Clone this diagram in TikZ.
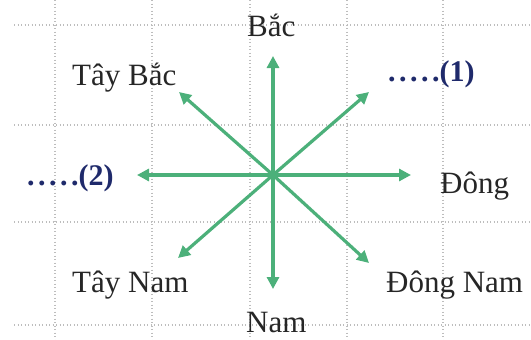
\documentclass[tikz,border=0pt]{standalone}
\usepackage{fontspec}
\setmainfont{Liberation Serif}
\usetikzlibrary{arrows.meta}
\definecolor{arrowgreen}{HTML}{4CB07A}
\definecolor{navy}{HTML}{1F2A6B}
\definecolor{gridgray}{HTML}{BDBDBD}
\begin{document}
\begin{tikzpicture}[x=1pt,y=-1pt,
  gridline/.style={gridgray,line width=1.1pt,dash pattern=on 1pt off 2.5pt},
  dirarrow/.style={arrowgreen,line width=3.2pt,-{Triangle[length=12pt,width=12pt]}},
  lbl/.style={anchor=base west,inner sep=0pt,font=\fontsize{31}{33}\selectfont,text=black!85},
  blank/.style={anchor=base west,inner sep=0pt,font=\fontsize{30}{32}\selectfont\bfseries,text=navy}]
\useasboundingbox (0,0) rectangle (531,340);
% grid
\foreach \x in {55,152,250,347,443} \draw[gridline] (\x,0) -- (\x,340);
\foreach \y in {25,125,222,325} \draw[gridline] (14,\y) -- (531,\y);
% center and tips
\coordinate (O) at (273,175);
\coordinate (N) at (273,56);
\coordinate (S) at (273,289);
\coordinate (E) at (411,175);
\coordinate (W) at (137,175);
\coordinate (NE) at (369,92);
\coordinate (SE) at (369,263);
\coordinate (NW) at (179,92);
\coordinate (SW) at (178,258);
\foreach \t in {N,S,E,W,NE,SE,NW,SW} \draw[dirarrow] (O) -- (\t);
% labels
\node[lbl] (bac) at (247,37) {Bắc};
\node[lbl] (taybac) at (72,85) {Tây Bắc};
\node[blank] (one) at (388,81) {.\kern3.5pt.\kern3.5pt.\kern3.5pt.\kern3.5pt.(1)};
\node[blank] (two) at (27,185) {.\kern3.5pt.\kern3.5pt.\kern3.5pt.\kern3.5pt.(2)};
\node[lbl] (dong) at (440,193) {Đông};
\node[lbl] (taynam) at (72,292) {Tây Nam};
\node[lbl] (dongnam) at (386,292) {Đông Nam};
\node[lbl] (nam) at (246,332) {Nam};
\end{tikzpicture}
\end{document}
